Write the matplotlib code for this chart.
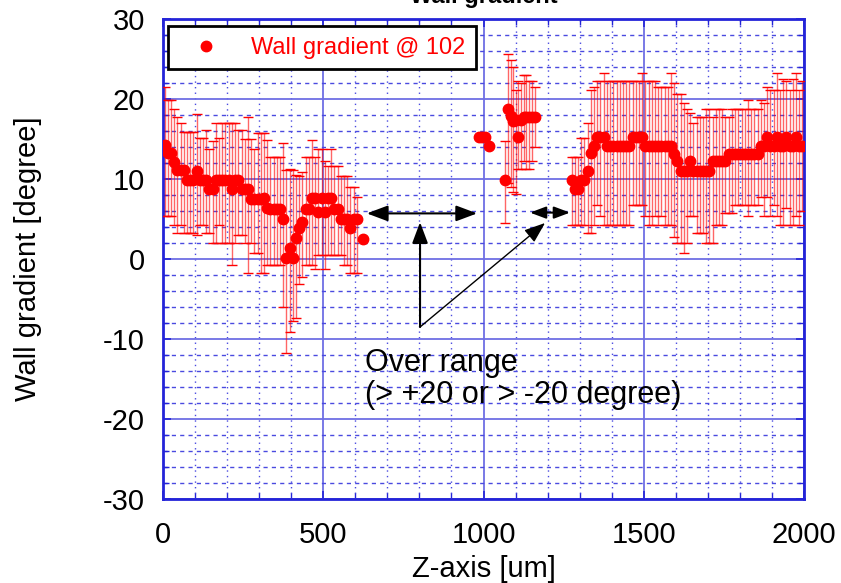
"""Wall gradient along Z -- per-point gradient with min/max error bars."""

import matplotlib
matplotlib.use("Agg")
import matplotlib.pyplot as plt
import numpy as np
from matplotlib.lines import Line2D
from matplotlib.ticker import MultipleLocator

plt.rcParams["font.family"] = ["Liberation Sans", "DejaVu Sans"]
plt.rcParams["axes.unicode_minus"] = False

# segment 1 (0 .. ~630 um)
z1 = [5, 15, 25, 35, 45, 55, 65, 75, 85, 95, 105, 115, 125, 135, 145, 155, 165, 175,
      185, 195, 205, 215, 225, 235, 245, 255, 265, 275, 285, 295, 305, 315, 325, 335,
      345, 355, 365, 375, 385, 395, 405, 415, 425, 435, 445, 455, 465, 475, 485, 495,
      505, 515, 525, 535, 545, 555, 565, 575, 585, 595, 605, 625]
g1 = [14.2, 13.2, 13.2, 12.1, 11.1, 11.1, 11.1, 9.9, 9.9, 9.9, 11.0, 9.9, 9.9, 9.9, 8.7,
      8.7, 9.9, 9.9, 9.9, 9.9, 9.9, 8.7, 9.9, 9.9, 8.7, 8.7, 8.7, 7.5, 7.5, 7.5, 7.5, 7.6,
      6.4, 6.3, 6.3, 6.3, 6.3, 5.0, 0.1, 1.4, 0.1, 2.6, 3.9, 4.6, 6.3, 6.3, 7.6, 7.6, 5.9,
      7.6, 5.9, 7.6, 7.6, 6.3, 6.3, 5.0, 5.0, 5.0, 3.9, 5.0, 5.0, 2.5]
lo1 = [5.4, 5.4, 5.4, 4.25, 3.2, 4.25, 3.2, 3.2, 3.2, 3.2, 3.0, 4.25, 4.25, 3.2, 3.2,
       1.95, 1.95, 4.25, 1.95, 1.95, 1.95, -0.75, 1.95, 3.0, 3.0, 1.95, -1.8, 1.95, 0.7,
       0.7, -1.8, -1.8, -0.75, -0.75, -0.75, -0.75, -0.75, -6.0, -11.8, -9.1, -7.8, -7.4,
       -3.1, -2.2, -0.75, -0.75, -0.75, -1.2, 0.5, 0.5, -1.2, 0.5, 0.5, 0.5, 0.5, 0.5,
       -0.75, -0.75, -1.8, -1.8, -1.8, 2.5]
hi1 = [21.5, 19.9, 19.9, 18.75, 17.8, 17.0, 15.9, 15.9, 15.9, 15.9, 18.1, 15.1, 15.1,
       16.1, 13.8, 14.7, 17.0, 15.1, 17.0, 17.0, 17.0, 17.0, 17.0, 16.1, 16.1, 15.0, 17.7,
       15.0, 13.7, 15.7, 15.7, 15.7, 14.9, 12.7, 12.7, 12.7, 12.7, 14.5, 11.1, 11.3, 11.1,
       10.5, 10.4, 10.9, 12.7, 12.7, 14.9, 12.7, 13.8, 13.8, 12.25, 11.6, 13.8, 11.6, 11.6,
       10.4, 10.4, 10.4, 9.0, 9.0, 7.8, 2.5]

# segment 2 (~1000 .. 1160 um)
z2 = [985, 995, 1005, 1018, 1067, 1076, 1085, 1093, 1101, 1109, 1117, 1125, 1133, 1141,
      1150, 1160]
g2 = [15.3, 15.3, 15.3, 14.1, 9.9, 18.7, 17.9, 17.2, 17.4, 15.3, 17.4, 17.8, 17.8, 17.8,
      17.8, 17.8]
lo2 = [15.3, 15.3, 15.3, 14.1, 4.5, 9.5, 9.0, 8.4, 8.1, 11.3, 11.3, 12.2, 11.3, 11.3,
       12.2, 14.0]
hi2 = [15.3, 15.3, 15.3, 14.1, 14.7, 25.6, 24.9, 24.0, 21.1, 22.2, 22.0, 23.0, 23.0, 22.2,
       22.2, 21.5]

# segment 3 (~1275 .. 2000 um)
z3 = list(range(1275, 2000, 10))
g3 = [9.9, 8.7, 8.7, 9.9, 9.9, 11.0, 13.2, 14.1, 15.3, 15.3, 15.3, 14.1, 14.1, 14.1, 14.1,
      14.1, 14.1, 14.1, 14.1, 15.3, 15.3, 15.3, 15.3, 14.1, 14.1, 14.1, 14.1, 14.1, 14.1,
      14.1, 14.1, 14.1, 13.1, 12.2, 11.0, 11.0, 11.0, 12.2, 11.0, 11.0, 11.0, 11.0, 11.0,
      11.0, 12.2, 12.2, 12.2, 12.2, 12.2, 13.1, 13.1, 13.1, 13.1, 13.1, 13.1, 13.1, 13.1,
      13.1, 13.1, 14.1, 14.1, 15.3, 14.1, 14.1, 15.3, 14.1, 14.1, 15.3, 14.1, 14.1, 15.3,
      14.1, 14.1]
lo3 = [4.3, 4.3, 4.3, 4.3, 4.3, 3.3, 3.3, 4.3, 6.75, 5.4, 4.3, 4.3, 4.3, 4.3, 4.3, 4.3,
       4.3, 4.3, 4.3, 6.75, 6.75, 6.75, 6.75, 5.4, 4.3, 4.3, 5.4, 4.3, 5.4, 4.3, 4.3, 4.3,
       2.8, 1.95, 1.95, 0.7, 1.95, 5.4, 5.4, 3.2, 3.2, 3.2, 1.95, 1.95, 1.95, 4.25, 4.25,
       4.25, 5.7, 5.7, 5.7, 6.75, 6.75, 6.75, 6.75, 5.4, 6.75, 6.75, 6.75, 7.8, 5.4, 7.8,
       5.4, 6.75, 5.4, 4.3, 4.3, 6.4, 4.3, 4.3, 5.4, 4.3, 6.0]
hi3 = [12.7, 12.7, 12.7, 15.1, 15.1, 17.0, 21.1, 21.5, 22.2, 22.2, 23.2, 22.2, 22.2, 22.2,
       22.2, 22.2, 22.2, 22.2, 22.2, 22.2, 22.2, 22.2, 23.2, 22.2, 22.2, 22.2, 22.2, 21.5,
       21.5, 21.5, 21.5, 23.2, 22.0, 20.6, 20.6, 19.5, 18.8, 18.2, 17.0, 17.8, 17.8, 17.8,
       18.8, 18.8, 17.8, 18.8, 18.8, 18.8, 17.8, 17.8, 18.8, 18.8, 18.8, 18.8, 18.8, 19.9,
       18.8, 18.8, 18.8, 19.9, 19.5, 21.5, 21.1, 21.1, 23.2, 21.1, 22.5, 22.2, 21.1, 22.5,
       23.2, 21.1, 22.2]

z = np.array(z1 + z2 + z3, dtype=float)
g = np.array(g1 + g2 + g3)
lo = np.array(lo1 + lo2 + lo3)
hi = np.array(hi1 + hi2 + hi3)

BLUE = "#2424d8"
GRID = "#6e6ee4"

fig = plt.figure(figsize=(8.41, 5.83), dpi=100)
ax = fig.add_axes([163 / 841, 84 / 583, 641 / 841, 480 / 583])

ax.set_xlim(0, 2000)
ax.set_ylim(-30, 30)
ax.xaxis.set_major_locator(MultipleLocator(500))
ax.xaxis.set_minor_locator(MultipleLocator(100))
ax.yaxis.set_major_locator(MultipleLocator(10))
ax.yaxis.set_minor_locator(MultipleLocator(2))
ax.grid(which="major", color=GRID, lw=1.3, ls="-")
ax.xaxis.grid(which="minor", color="#4a4ae0", lw=1.0, ls=(0, (1, 3)))
ax.yaxis.grid(which="minor", color="#4a4ae0", lw=1.0, ls=(0, (3, 3)))
ax.set_axisbelow(True)
for s in ax.spines.values():
    s.set_color(BLUE)
    s.set_linewidth(2)
ax.tick_params(which="both", direction="in", color=BLUE, top=True, right=True)
ax.tick_params(which="major", length=6, width=1.2, labelsize=21)
ax.tick_params(which="minor", length=4, width=1.0)
ax.tick_params(axis="x", which="major", pad=16)
ax.tick_params(axis="y", which="major", pad=13)

eb = ax.errorbar(z, g, yerr=[g - lo, hi - g], fmt="o", color="red", ms=7.5,
                 ecolor="red", elinewidth=1, capsize=3.5, capthick=1, zorder=3)
eb[2][0].set_alpha(0.6)

ax.set_xlabel("Z-axis [um]", fontsize=21)
ax.set_ylabel("Wall gradient [degree]", fontsize=21)
ax.xaxis.set_label_coords(0.5, -0.117)
ax.yaxis.set_label_coords(-0.189, 0.5)

h = Line2D([], [], ls="none", marker="o", color="red", ms=7.5)
leg = ax.legend([h], ["Wall gradient @ 102"], loc="upper left",
                bbox_to_anchor=(0.0078, 0.985), borderaxespad=0, fontsize=17,
                labelcolor="red", fancybox=False, edgecolor="black", framealpha=1,
                handlelength=2.3, handletextpad=0.75, borderpad=0.45)
leg.get_frame().set_linewidth(2)

arr = dict(arrowstyle="<|-|>,head_length=0.8,head_width=0.3", color="black", lw=1.5,
           mutation_scale=16, shrinkA=0, shrinkB=0)
ax.annotate("", xy=(636, 5.7), xytext=(980, 5.7), arrowprops=arr)
ax.annotate("", xy=(1145, 5.8), xytext=(1270, 5.8),
            arrowprops=dict(arr, mutation_scale=12))
one = dict(arrowstyle="-|>,head_length=0.8,head_width=0.3", color="black",
           mutation_scale=16, shrinkA=0, shrinkB=0)
ax.annotate("", xy=(802, 4.6), xytext=(802, -8.5), arrowprops=dict(one, lw=1.5))
ax.annotate("", xy=(1192, 4.5), xytext=(802, -8.5), arrowprops=dict(one, lw=1.0))
ax.text(630, -13.96, "Over range", fontsize=22, va="baseline", ha="left")
ax.text(630, -18.0, "(> +20 or > -20 degree)", fontsize=22, va="baseline", ha="left")

fig.text(484 / 841, 1 - 3 / 583, "Wall gradient", ha="center", va="baseline",
         fontsize=17, fontweight="bold")

fig.savefig("out.png", dpi=100)
plt.close(fig)
